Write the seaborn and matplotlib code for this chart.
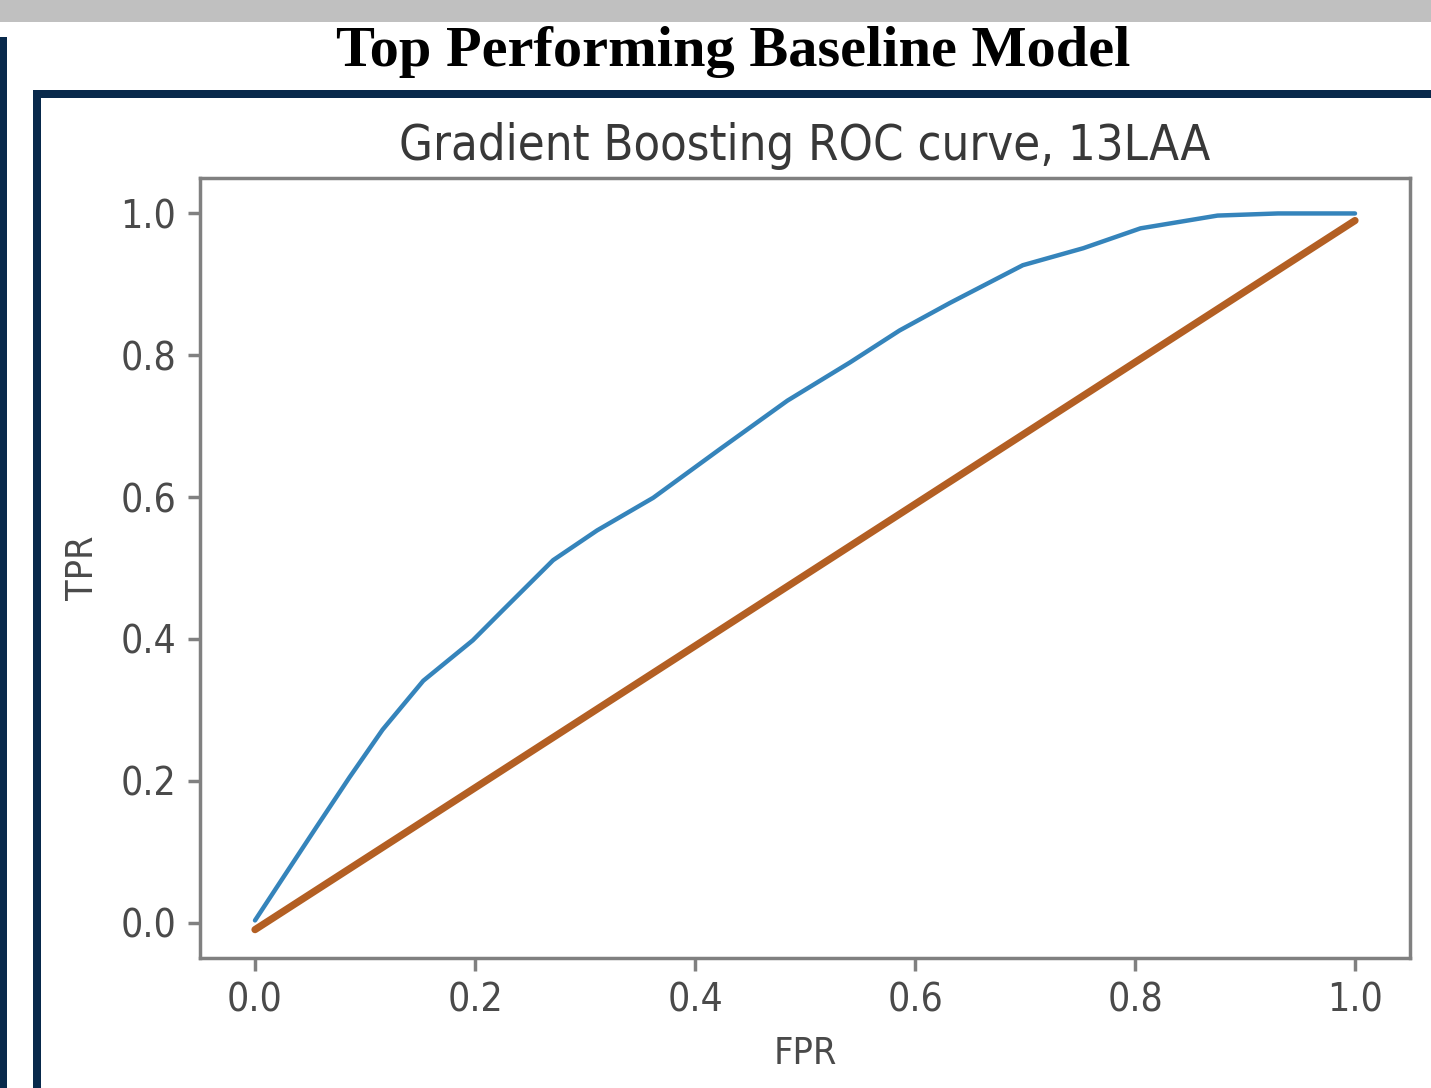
import matplotlib
matplotlib.use("Agg")
import matplotlib.pyplot as plt
from matplotlib.patches import Rectangle
import seaborn as sns

# ROC curve points
fpr = [0.0, 0.025, 0.056, 0.086, 0.116, 0.153, 0.198, 0.225, 0.271, 0.311,
       0.362, 0.423, 0.484, 0.541, 0.586, 0.632, 0.698, 0.753, 0.805, 0.875,
       0.93, 1.0]
tpr = [0.003, 0.062, 0.135, 0.205, 0.272, 0.341, 0.398, 0.44, 0.511, 0.553,
       0.599, 0.668, 0.736, 0.79, 0.835, 0.874, 0.927, 0.951, 0.979, 0.997,
       1.0, 1.0]
diag_x = [0.0, 1.0]
diag_y = [-0.01, 0.99]

ticks = [0.0, 0.2, 0.4, 0.6, 0.8, 1.0]
tick_labels = ["0.0", "0.2", "0.4", "0.6", "0.8", "1.0"]

slide_title = "Top Performing Baseline Model"
chart_title = "Gradient Boosting ROC curve, 13LAA"

W, H = 1431, 1088
NAVY = "#08294b"
GREY_TXT = "#4a4a4a"

sns.set_theme(style="ticks")
plt.rcParams['font.family'] = ['DejaVu Sans']

fig = plt.figure(figsize=(W / 100, H / 100), dpi=100)
fig.patch.set_facecolor("white")


def px_rect(x0, y0, x1, y1, color):
    # rectangle given in pixel coords from top-left
    fig.add_artist(Rectangle((x0 / W, 1 - y1 / H), (x1 - x0) / W, (y1 - y0) / H,
                             transform=fig.transFigure, facecolor=color,
                             edgecolor="none", zorder=0))


# slide decorations
px_rect(0, 0, W, 22, "#c0c0c0")
px_rect(0, 37, 7, H, NAVY)
px_rect(33, 90, W, 98, NAVY)
px_rect(33, 90, 41, H, NAVY)

fig.text(733 / W, 1 - 52 / H, slide_title, ha="center", va="center",
         fontsize=42, fontweight="bold", family="Liberation Serif", color="black")

ax = fig.add_axes([200 / W, 1 - 958 / H, (1410 - 200) / W, (958 - 178) / H])

sns.lineplot(x=fpr, y=tpr, ax=ax, color="#1f77b4", linewidth=3.2,
             sort=False, estimator=None, alpha=0.9)
sns.lineplot(x=diag_x, y=diag_y, ax=ax, color="#b35f23", linewidth=5.2,
             sort=False, estimator=None)

ax.set_xlim(-0.05, 1.05)
ax.set_ylim(-0.05, 1.05)
ax.set_xticks(ticks)
ax.set_xticklabels(tick_labels)
ax.set_yticks(ticks)
ax.set_yticklabels(tick_labels)

ax.tick_params(labelsize=28, colors="#808080", labelcolor=GREY_TXT,
               length=9, width=2.5, pad=8)
for lbl in ax.get_xticklabels() + ax.get_yticklabels():
    lbl.set_fontstretch("condensed")
for s in ax.spines.values():
    s.set_visible(True)
    s.set_color("#808080")
    s.set_linewidth(2.5)

ax.set_title(chart_title, fontsize=35, color="#383838", pad=13,
             fontstretch="condensed")
ax.set_xlabel("FPR", fontsize=27, color=GREY_TXT, labelpad=12,
              fontstretch="condensed")
ax.set_ylabel("TPR", fontsize=27, color=GREY_TXT, labelpad=14,
              fontstretch="condensed")

fig.savefig("out.png", dpi=100)
